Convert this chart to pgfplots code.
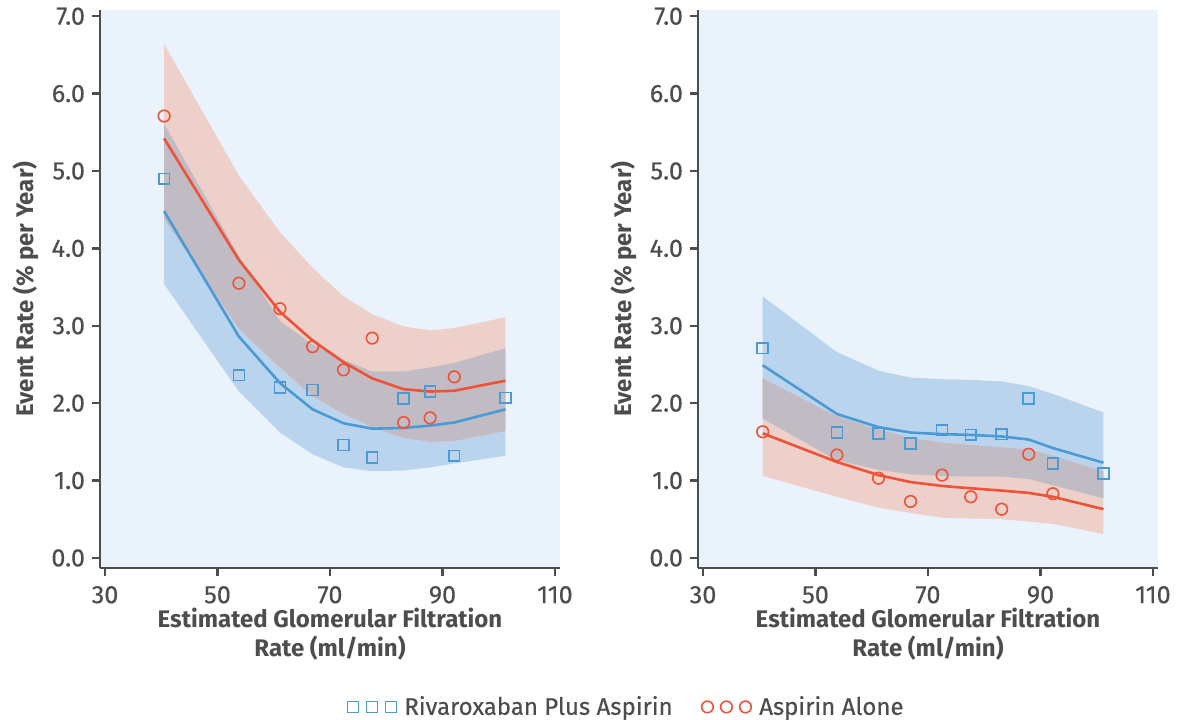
\documentclass[border=0pt]{standalone}
\usepackage{pgfplots}
\pgfplotsset{compat=1.18}
\usepackage{pgfplotstable}
\usepgfplotslibrary{fillbetween}
\usepackage{fontspec}
\setmainfont{Fira Sans}
\newfontfamily\tickfont{Fira Sans}[FakeBold=0.4]

\definecolor{bgblue}{HTML}{EAF2FB}
\definecolor{bandblue}{HTML}{BAD4EE}
\definecolor{bandred}{HTML}{EDD0CA}
\definecolor{bandgray}{HTML}{C1BBC4}
\definecolor{lineblue}{HTML}{4A9AD6}
\definecolor{linered}{HTML}{EF5236}
\definecolor{txtgray}{HTML}{4D4D4D}

% left panel: fitted lines and bands
\pgfplotstableread{
x     bl   blo  bhi  rl   rlo  rhi
40.5  4.48 3.54 5.61 5.42 4.38 6.64
53.8  2.86 2.15 3.90 3.85 2.96 4.94
61.1  2.26 1.62 3.06 3.18 2.46 4.21
66.9  1.92 1.34 2.76 2.81 2.09 3.75
72.4  1.74 1.17 2.56 2.53 1.86 3.38
77.5  1.67 1.12 2.41 2.32 1.69 3.15
83.1  1.68 1.13 2.41 2.18 1.55 2.99
87.8  1.71 1.17 2.46 2.15 1.50 2.94
92.1  1.75 1.22 2.52 2.16 1.51 2.97
101.2 1.92 1.32 2.71 2.29 1.64 3.11
}\leftbands
\pgfplotstableread{
x     y
40.5  4.90
53.8  2.36
61.1  2.20
66.9  2.17
72.4  1.46
77.5  1.30
83.1  2.06
87.8  2.15
92.1  1.32
101.2 2.07
}\leftblue
\pgfplotstableread{
x     y
40.5  5.71
53.8  3.55
61.1  3.22
66.9  2.73
72.4  2.43
77.5  2.84
83.1  1.75
87.8  1.81
92.1  2.34
}\leftred

% right panel
\pgfplotstableread{
x     bl   blo  bhi  rl   rlo  rhi
40.6  2.49 1.80 3.38 1.61 1.06 2.32
53.8  1.86 1.26 2.66 1.24 0.79 1.83
61.2  1.69 1.14 2.42 1.07 0.65 1.66
66.9  1.62 1.08 2.33 0.98 0.58 1.55
72.5  1.60 1.06 2.31 0.93 0.52 1.49
77.6  1.59 1.05 2.30 0.90 0.51 1.46
83.1  1.57 1.05 2.28 0.87 0.50 1.43
87.9  1.53 1.02 2.22 0.84 0.47 1.40
92.2  1.42 0.94 2.12 0.79 0.44 1.32
101.2 1.23 0.77 1.88 0.63 0.31 1.12
}\rightbands
\pgfplotstableread{
x     y
40.6  2.71
53.8  1.62
61.2  1.61
66.9  1.48
72.5  1.65
77.6  1.59
83.1  1.60
87.9  2.06
92.2  1.22
101.2 1.09
}\rightblue
\pgfplotstableread{
x     y
40.6  1.63
53.8  1.33
61.2  1.03
66.9  0.73
72.5  1.07
77.6  0.79
83.1  0.63
87.9  1.34
92.2  0.83
}\rightred

\pgfplotsset{
  panel/.style={
    scale only axis, width=230pt, height=279pt,
    xmin=29.1, xmax=110.9, ymin=-0.13, ymax=7.08,
    axis lines*=left,
    axis background/.style={fill=bgblue},
    axis line style={draw=txtgray, line width=1.2pt},
    tick style={draw=txtgray, line width=1.2pt},
    tick align=outside, major tick length=4pt,
    xtick={30,50,70,90,110}, xticklabels={30,50,70,90,110},
    ytick={0,1,2,3,4,5,6,7},
    yticklabels={0.0,1.0,2.0,3.0,4.0,5.0,6.0,7.0},
    tick label style={font=\tickfont\fontsize{12.6}{15}\selectfont, text=txtgray},
    xticklabel style={yshift=-1.5pt},
    label style={font=\fontsize{12}{14.5}\selectfont\bfseries, text=txtgray},
    xlabel={Estimated Glomerular Filtration\\Rate (ml/min)},
    xlabel style={align=center, at={(axis description cs:0.5,-0.0717)}, anchor=north, inner sep=0pt},
    ylabel={Event Rate (\% per Year)},
    ylabel style={at={(axis description cs:-0.161,0.5)}, anchor=center, inner sep=0pt},
  },
  blueline/.style={draw=lineblue, line width=1.3pt, no marks, forget plot},
  redline/.style={draw=linered, line width=1.3pt, no marks, forget plot},
  bluemarks/.style={only marks, mark=square, mark size=2.7pt,
    mark options={draw=lineblue, line width=0.8pt, fill=none}},
  redmarks/.style={only marks, mark=o, mark size=2.9pt,
    mark options={draw=linered, line width=0.8pt, fill=none}},
  bandpath/.style={draw=none, forget plot},
}

\begin{document}
\begin{tikzpicture}

\begin{axis}[panel, at={(50pt,75.5pt)}, anchor=south west,
  legend style={at={(axis description cs:1.1457,-0.249)}, anchor=center,
    draw=none, fill=none, legend columns=2,
    font=\tickfont\fontsize{12}{14}\selectfont, text=txtgray,
    nodes={inner xsep=1.5pt},
    /tikz/every odd column/.append style={column sep=2.5pt},
    /tikz/every even column/.append style={column sep=13pt}},
  legend image code/.code={\draw[#1] plot coordinates {(0pt,0pt) (9.5pt,0pt) (19pt,0pt)};}
]
\addplot[bandpath, name path=bhi] table[x=x, y=bhi] {\leftbands};
\addplot[bandpath, name path=blo] table[x=x, y=blo] {\leftbands};
\addplot[bandpath, name path=rhi] table[x=x, y=rhi] {\leftbands};
\addplot[bandpath, name path=rlo] table[x=x, y=rlo] {\leftbands};
\addplot[fill=bandblue, draw=none, forget plot] fill between[of=bhi and blo];
\addplot[fill=bandred, draw=none, forget plot] fill between[of=rhi and rlo];
\addplot[fill=bandgray, draw=none, forget plot] fill between[of=bhi and rlo];
\addplot[blueline] table[x=x, y=bl] {\leftbands};
\addplot[redline] table[x=x, y=rl] {\leftbands};
\addplot[bluemarks] table[x=x, y=y] {\leftblue};
\addlegendentry{Rivaroxaban Plus Aspirin}
\addplot[redmarks] table[x=x, y=y] {\leftred};
\addlegendentry{Aspirin Alone}
\end{axis}

\begin{axis}[panel, at={(349pt,75.5pt)}, anchor=south west]
\addplot[bandpath, name path=bhi2] table[x=x, y=bhi] {\rightbands};
\addplot[bandpath, name path=blo2] table[x=x, y=blo] {\rightbands};
\addplot[bandpath, name path=rhi2] table[x=x, y=rhi] {\rightbands};
\addplot[bandpath, name path=rlo2] table[x=x, y=rlo] {\rightbands};
\addplot[fill=bandblue, draw=none, forget plot] fill between[of=bhi2 and blo2];
\addplot[fill=bandred, draw=none, forget plot] fill between[of=rhi2 and rlo2];
\addplot[fill=bandgray, draw=none, forget plot] fill between[of=rhi2 and blo2];
\addplot[blueline] table[x=x, y=bl] {\rightbands};
\addplot[redline] table[x=x, y=rl] {\rightbands};
\addplot[bluemarks] table[x=x, y=y] {\rightblue};
\addplot[redmarks] table[x=x, y=y] {\rightred};
\end{axis}

\pgfresetboundingbox
\path[use as bounding box] (0,0) rectangle (588.5pt,359.5pt);
\end{tikzpicture}
\end{document}
